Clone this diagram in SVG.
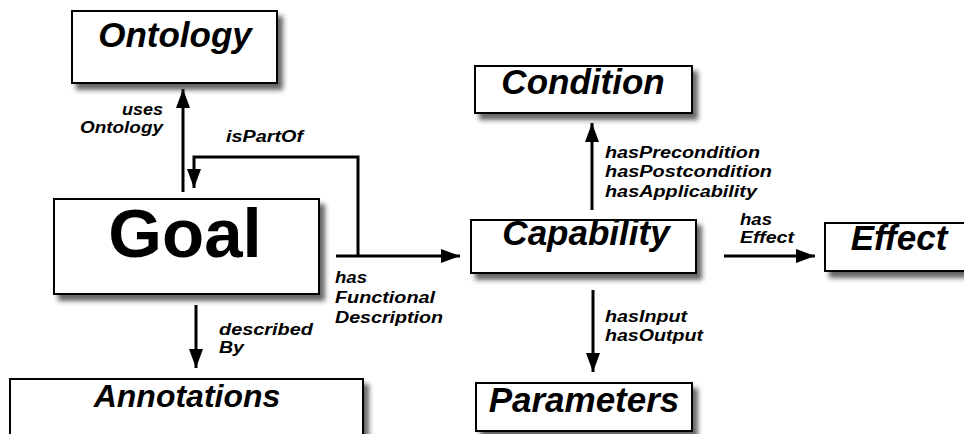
<svg xmlns="http://www.w3.org/2000/svg" width="964" height="434" viewBox="0 0 964 434">
  <defs>
    <filter id="shadow" x="-10%" y="-20%" width="130%" height="160%">
      <feDropShadow dx="5" dy="6" stdDeviation="2.5" flood-color="#333" flood-opacity="0.75"/>
    </filter>
    <marker id="arrow" markerUnits="userSpaceOnUse" markerWidth="20" markerHeight="14" refX="19" refY="7" orient="auto">
      <path d="M0,0 L19,7 L0,14 Z" fill="#000"/>
    </marker>
  </defs>
  <style>
    .box { fill: #fff; stroke: #000; stroke-width: 2; filter: url(#shadow); }
    .title { font-family: "Liberation Sans", Arial, sans-serif; font-weight: bold; font-style: italic; font-size: 35px; fill: #000; text-anchor: middle; }
    .goal { font-family: "Liberation Sans", Arial, sans-serif; font-weight: bold; font-size: 69px; fill: #000; text-anchor: middle; }
    .lbl { font-family: "Liberation Sans", Arial, sans-serif; font-weight: bold; font-style: italic; font-size: 16px; fill: #000; }
    .edge { fill: none; stroke: #000; stroke-width: 3; }
  </style>
  <rect width="964" height="434" fill="#fff"/>

  <g id="connectors">
    <line class="edge" x1="183" y1="192" x2="183" y2="89" marker-end="url(#arrow)"/>
    <polyline class="edge" points="358,256 358,157 194,157 194,188" marker-end="url(#arrow)"/>
    <line class="edge" x1="336" y1="256" x2="460" y2="256" marker-end="url(#arrow)"/>
    <line class="edge" x1="196" y1="305" x2="196" y2="368" marker-end="url(#arrow)"/>
    <line class="edge" x1="592" y1="210" x2="592" y2="123" marker-end="url(#arrow)"/>
    <line class="edge" x1="724" y1="256" x2="815" y2="256" marker-end="url(#arrow)"/>
    <line class="edge" x1="593" y1="290" x2="593" y2="372" marker-end="url(#arrow)"/>

    <text class="lbl" text-anchor="end" x="163" y="115" textLength="41" lengthAdjust="spacingAndGlyphs">uses</text>
    <text class="lbl" text-anchor="end" x="163" y="133" textLength="83" lengthAdjust="spacingAndGlyphs">Ontology</text>
    <text class="lbl" x="226" y="142" textLength="77" lengthAdjust="spacingAndGlyphs">isPartOf</text>
    <text class="lbl" x="335" y="283" textLength="32" lengthAdjust="spacingAndGlyphs">has</text>
    <text class="lbl" x="335" y="303" textLength="100" lengthAdjust="spacingAndGlyphs">Functional</text>
    <text class="lbl" x="335" y="323" textLength="108" lengthAdjust="spacingAndGlyphs">Description</text>
    <text class="lbl" x="219" y="335" textLength="94" lengthAdjust="spacingAndGlyphs">described</text>
    <text class="lbl" x="219" y="353" textLength="25" lengthAdjust="spacingAndGlyphs">By</text>
    <text class="lbl" x="605" y="158" textLength="155" lengthAdjust="spacingAndGlyphs">hasPrecondition</text>
    <text class="lbl" x="605" y="177" textLength="167" lengthAdjust="spacingAndGlyphs">hasPostcondition</text>
    <text class="lbl" x="605" y="197" textLength="152" lengthAdjust="spacingAndGlyphs">hasApplicability</text>
    <text class="lbl" x="740" y="225" textLength="32" lengthAdjust="spacingAndGlyphs">has</text>
    <text class="lbl" x="740" y="243" textLength="54" lengthAdjust="spacingAndGlyphs">Effect</text>
    <text class="lbl" x="605" y="322" textLength="82" lengthAdjust="spacingAndGlyphs">hasInput</text>
    <text class="lbl" x="605" y="341" textLength="98" lengthAdjust="spacingAndGlyphs">hasOutput</text>
  </g>

  <g id="ontology">
    <rect class="box" x="72" y="11" width="205" height="72"/>
    <text class="title" x="175" y="47">Ontology</text>
  </g>
  <g id="goal">
    <rect class="box" x="54" y="199" width="265" height="95"/>
    <text class="goal" x="185" y="257">Goal</text>
  </g>
  <g id="annotations">
    <rect class="box" x="10" y="379" width="353" height="70"/>
    <text class="title" x="187" y="407" style="font-size:32px">Annotations</text>
  </g>
  <g id="condition">
    <rect class="box" x="475" y="66" width="217" height="47"/>
    <text class="title" x="583" y="94">Condition</text>
  </g>
  <g id="capability">
    <rect class="box" x="471" y="220" width="225" height="53"/>
    <text class="title" x="586" y="245">Capability</text>
  </g>
  <g id="effect">
    <rect class="box" x="825" y="223" width="150" height="48"/>
    <text class="title" x="899" y="250">Effect</text>
  </g>
  <g id="parameters">
    <rect class="box" x="476" y="383" width="216" height="48"/>
    <text class="title" x="584" y="412">Parameters</text>
  </g>
</svg>
